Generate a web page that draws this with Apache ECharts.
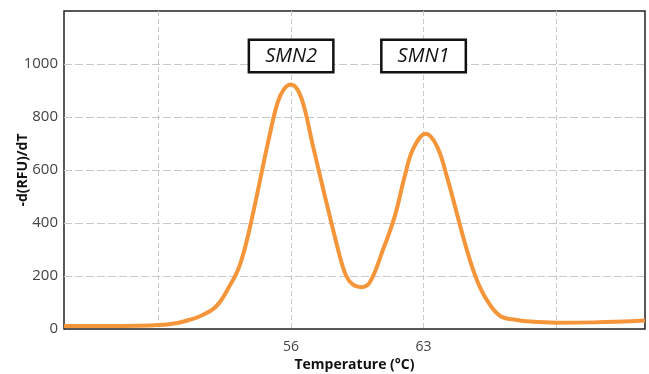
<!DOCTYPE html>
<html>
<head>
<meta charset="utf-8">
<script src="https://cdn.jsdelivr.net/npm/echarts@6.0.0/dist/echarts.min.js"></script>
<style>
  html, body { margin: 0; padding: 0; background: #fff; }
  #chart { width: 649px; height: 374px; }
</style>
</head>
<body>
<div id="chart"></div>
<script>
// melt curve
const temps = [44, 46, 48, 49, 50, 50.6, 51.15, 52.03, 52.74, 53.27, 53.8, 54.86, 55.3, 55.65, 56, 56.36, 56.71, 57.15, 58.57, 58.92, 59.27, 59.72, 60.16, 60.86, 61.48, 62.01, 62.45, 63.12, 63.69, 64.22, 65.28, 65.81, 66.34, 67.05, 67.93, 68.63, 70, 72, 74.7];
const values = [11, 11, 12, 15, 23, 34, 47, 85, 161, 237, 376, 730, 857, 908, 923, 901, 832, 692, 275, 199, 167, 158, 176, 300, 426, 578, 680, 737, 692, 578, 300, 186, 110, 49, 34, 28, 24, 25, 32];

// peak labels
const peakNames = ['SMN2', 'SMN1'];
const peakTemps = [56, 63];
const peakLabelY = 1030;

// ticks
const xGridTemps = [49, 56, 63, 70];
const xLabelTemps = [56, 63];
const yGridValues = [200, 400, 600, 800, 1000];
const yLabelValues = [0, 200, 400, 600, 800, 1000];

const chart = echarts.init(document.getElementById('chart'));

const font = '"Open Sans", "Noto Sans", sans-serif';

const option = {
  animation: false,
  grid: {
    left: 64, right: 4, top: 11, bottom: 45,
    outerBoundsMode: 'none',
    containLabel: false,
    show: true,
    borderColor: '#222',
    borderWidth: 1.5
  },
  xAxis: {
    type: 'value',
    min: 44,
    max: 74.7,
    name: 'Temperature (°C)',
    nameLocation: 'middle',
    nameGap: 29,
    nameMoveOverlap: false,
    nameTextStyle: { fontFamily: font, fontWeight: 'bold', fontSize: 14, color: '#111' },
    axisLine: { show: false },
    axisTick: { show: false, customValues: xGridTemps },
    axisLabel: {
      customValues: xLabelTemps,
      fontFamily: font, fontSize: 14, color: '#444', margin: 11
    },
    splitLine: { show: true, lineStyle: { color: '#c8c8c8', type: [5, 3], width: 1 } }
  },
  yAxis: {
    type: 'value',
    min: 0,
    max: 1200,
    name: '-d(RFU)/dT',
    nameLocation: 'middle',
    nameGap: 34,
    nameMoveOverlap: false,
    nameTextStyle: { fontFamily: font, fontWeight: 'bold', fontSize: 14, color: '#111' },
    axisLine: { show: false },
    axisTick: { show: false, customValues: yGridValues },
    axisLabel: {
      customValues: yLabelValues,
      formatter: v => String(v),
      fontFamily: font, fontSize: 15, color: '#444', margin: 6
    },
    splitLine: { show: true, lineStyle: { color: '#c8c8c8', type: [8, 3], width: 1 } }
  },
  series: [{
    type: 'line',
    data: temps.map((t, i) => [t, values[i]]),
    smooth: 0.4,
    symbol: 'none',
    lineStyle: { color: '#F5953A', width: 4 },
    markPoint: {
      symbol: 'rect',
      symbolSize: 0,
      label: {
        show: true,
        position: 'inside',
        formatter: p => p.name,
        fontFamily: font, fontStyle: 'italic', fontSize: 20, color: '#111',
        backgroundColor: '#fff',
        borderColor: '#111',
        borderWidth: 2.5,
        width: 82,
        height: 30,
        lineHeight: 30,
        align: 'center',
        verticalAlign: 'middle'
      },
      data: peakNames.map((n, i) => ({ name: n, coord: [peakTemps[i], peakLabelY] }))
    }
  }]
};

chart.setOption(option);
</script>
</body>
</html>
